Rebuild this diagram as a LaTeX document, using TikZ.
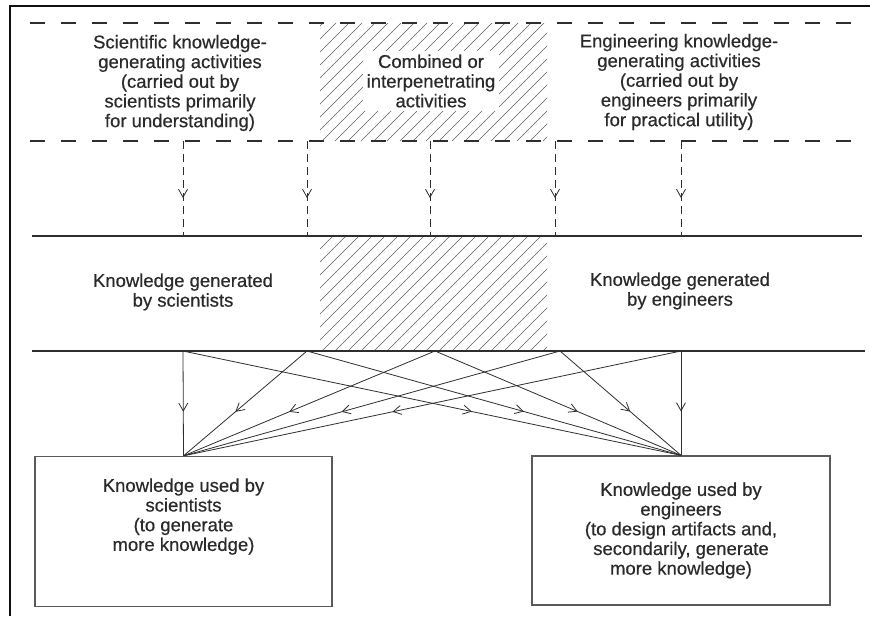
\documentclass[tikz,border=0pt]{standalone}
\usepackage{fontspec}
\setmainfont{Liberation Sans}
\newfontfamily\scanfont[FakeBold=0.5]{Liberation Sans}
\usetikzlibrary{positioning, arrows.meta, decorations.markings}
\definecolor{clrline}{HTML}{2E2E2E}
\definecolor{clrtext}{HTML}{2A2A2A}
\definecolor{clrbox}{HTML}{5A5A5A}
\definecolor{clrhatch}{HTML}{5E5E5E}
\definecolor{clrframe}{HTML}{111111}

\begin{document}
\begin{tikzpicture}[
    x=1pt, y=-1pt,
    >={Straight Barb[length=8pt,width=9pt]},
    every node/.style={font=\scanfont\fontsize{18.5}{19.7}\selectfont, text=clrtext},
    caption/.style={align=center, inner sep=2pt},
    usebox/.style={draw=clrbox, line width=1.3pt, minimum width=297pt,
                   minimum height=150pt, align=center},
    level/.style={draw=clrline, line width=1.5pt},
    activity/.style={draw=clrline, line width=1.8pt, dash pattern=on 15pt off 16pt},
    feed/.style={draw=clrline, line width=0.8pt, dash pattern=on 8pt off 5pt,
                 postaction={decorate},
                 decoration={markings, mark=at position 0.6 with {\arrow{>}}}},
    flow/.style={draw=clrline, line width=0.8pt, postaction={decorate},
                 decoration={markings, mark=at position 0.58 with {\arrow{>}}}},
    hatch/.style={draw=clrhatch, line width=0.6pt},
]
\useasboundingbox (0,0) rectangle (870,616);
\draw[clrframe, line width=1.5pt] (10,616) -- (10,6) -- (870,6);
% hatched zone of combined activities
\begin{scope}
\clip (320,23) rectangle (547,141);
\foreach \k in {0,...,27} \draw[hatch] (205+\k*13,141) -- ++(120,-120);
\end{scope}
\begin{scope}
\clip (320,236) rectangle (547,351);
\foreach \k in {0,...,27} \draw[hatch] (205+\k*13,351) -- ++(120,-120);
\end{scope}
% levels
\draw[activity] (30,23) -- (862,23);
\draw[activity] (30,141) -- (862,141);
\draw[level] (32,236) -- (862,236);
\draw[level] (32,351) -- (865,351);
% activity texts
\node[caption] (sci_act) at (180,83) {Scientific knowledge-\\generating activities\\(carried out by\\scientists primarily\\for understanding)};
\node[caption, fill=white, inner sep=4pt] (comb_act) at (431,81) {Combined or\\interpenetrating\\activities};
\node[caption] (eng_act) at (679,82) {Engineering knowledge-\\generating activities\\(carried out by\\engineers primarily\\for practical utility)};
% generated knowledge
\node[caption] (sci_gen) at (183,292) {Knowledge generated\\by scientists};
\node[caption] (eng_gen) at (680,291) {Knowledge generated\\by engineers};
% used knowledge
\node[usebox] (sci_use) at (183.5,531.5) {Knowledge used by\\scientists\\(to generate\\more knowledge)\\[14pt]};
\node[usebox, minimum width=298pt, minimum height=149pt] (eng_use) at (681,530.5) {Knowledge used by\\engineers\\(to design artifacts and,\\secondarily, generate\\more knowledge)};
% points on the levels
\coordinate (act_1) at (183,141);
\coordinate (act_2) at (307,141);
\coordinate (act_3) at (430,141);
\coordinate (act_4) at (555,141);
\coordinate (act_5) at (681,141);
\coordinate (gen_in_1) at (183,236);
\coordinate (gen_in_2) at (307,236);
\coordinate (gen_in_3) at (430,236);
\coordinate (gen_in_4) at (555,236);
\coordinate (gen_in_5) at (681,236);
\coordinate (gen_out_1) at (183,351);
\coordinate (gen_out_2) at (307,351);
\coordinate (gen_out_3) at (435,351);
\coordinate (gen_out_4) at (560,351);
\coordinate (gen_out_5) at (681,351);
\draw[feed] (act_1) -- (gen_in_1);
\draw[feed] (act_2) -- (gen_in_2);
\draw[feed] (act_3) -- (gen_in_3);
\draw[feed] (act_4) -- (gen_in_4);
\draw[feed] (act_5) -- (gen_in_5);
\draw[flow] (gen_out_1) -- (sci_use.north);
\draw[flow] (gen_out_2) -- (sci_use.north);
\draw[flow] (gen_out_3) -- (sci_use.north);
\draw[flow] (gen_out_4) -- (sci_use.north);
\draw[flow] (gen_out_5) -- (sci_use.north);
\draw[flow] (gen_out_1) -- (eng_use.north);
\draw[flow] (gen_out_2) -- (eng_use.north);
\draw[flow] (gen_out_3) -- (eng_use.north);
\draw[flow] (gen_out_4) -- (eng_use.north);
\draw[flow] (gen_out_5) -- (eng_use.north);
\end{tikzpicture}
\end{document}
